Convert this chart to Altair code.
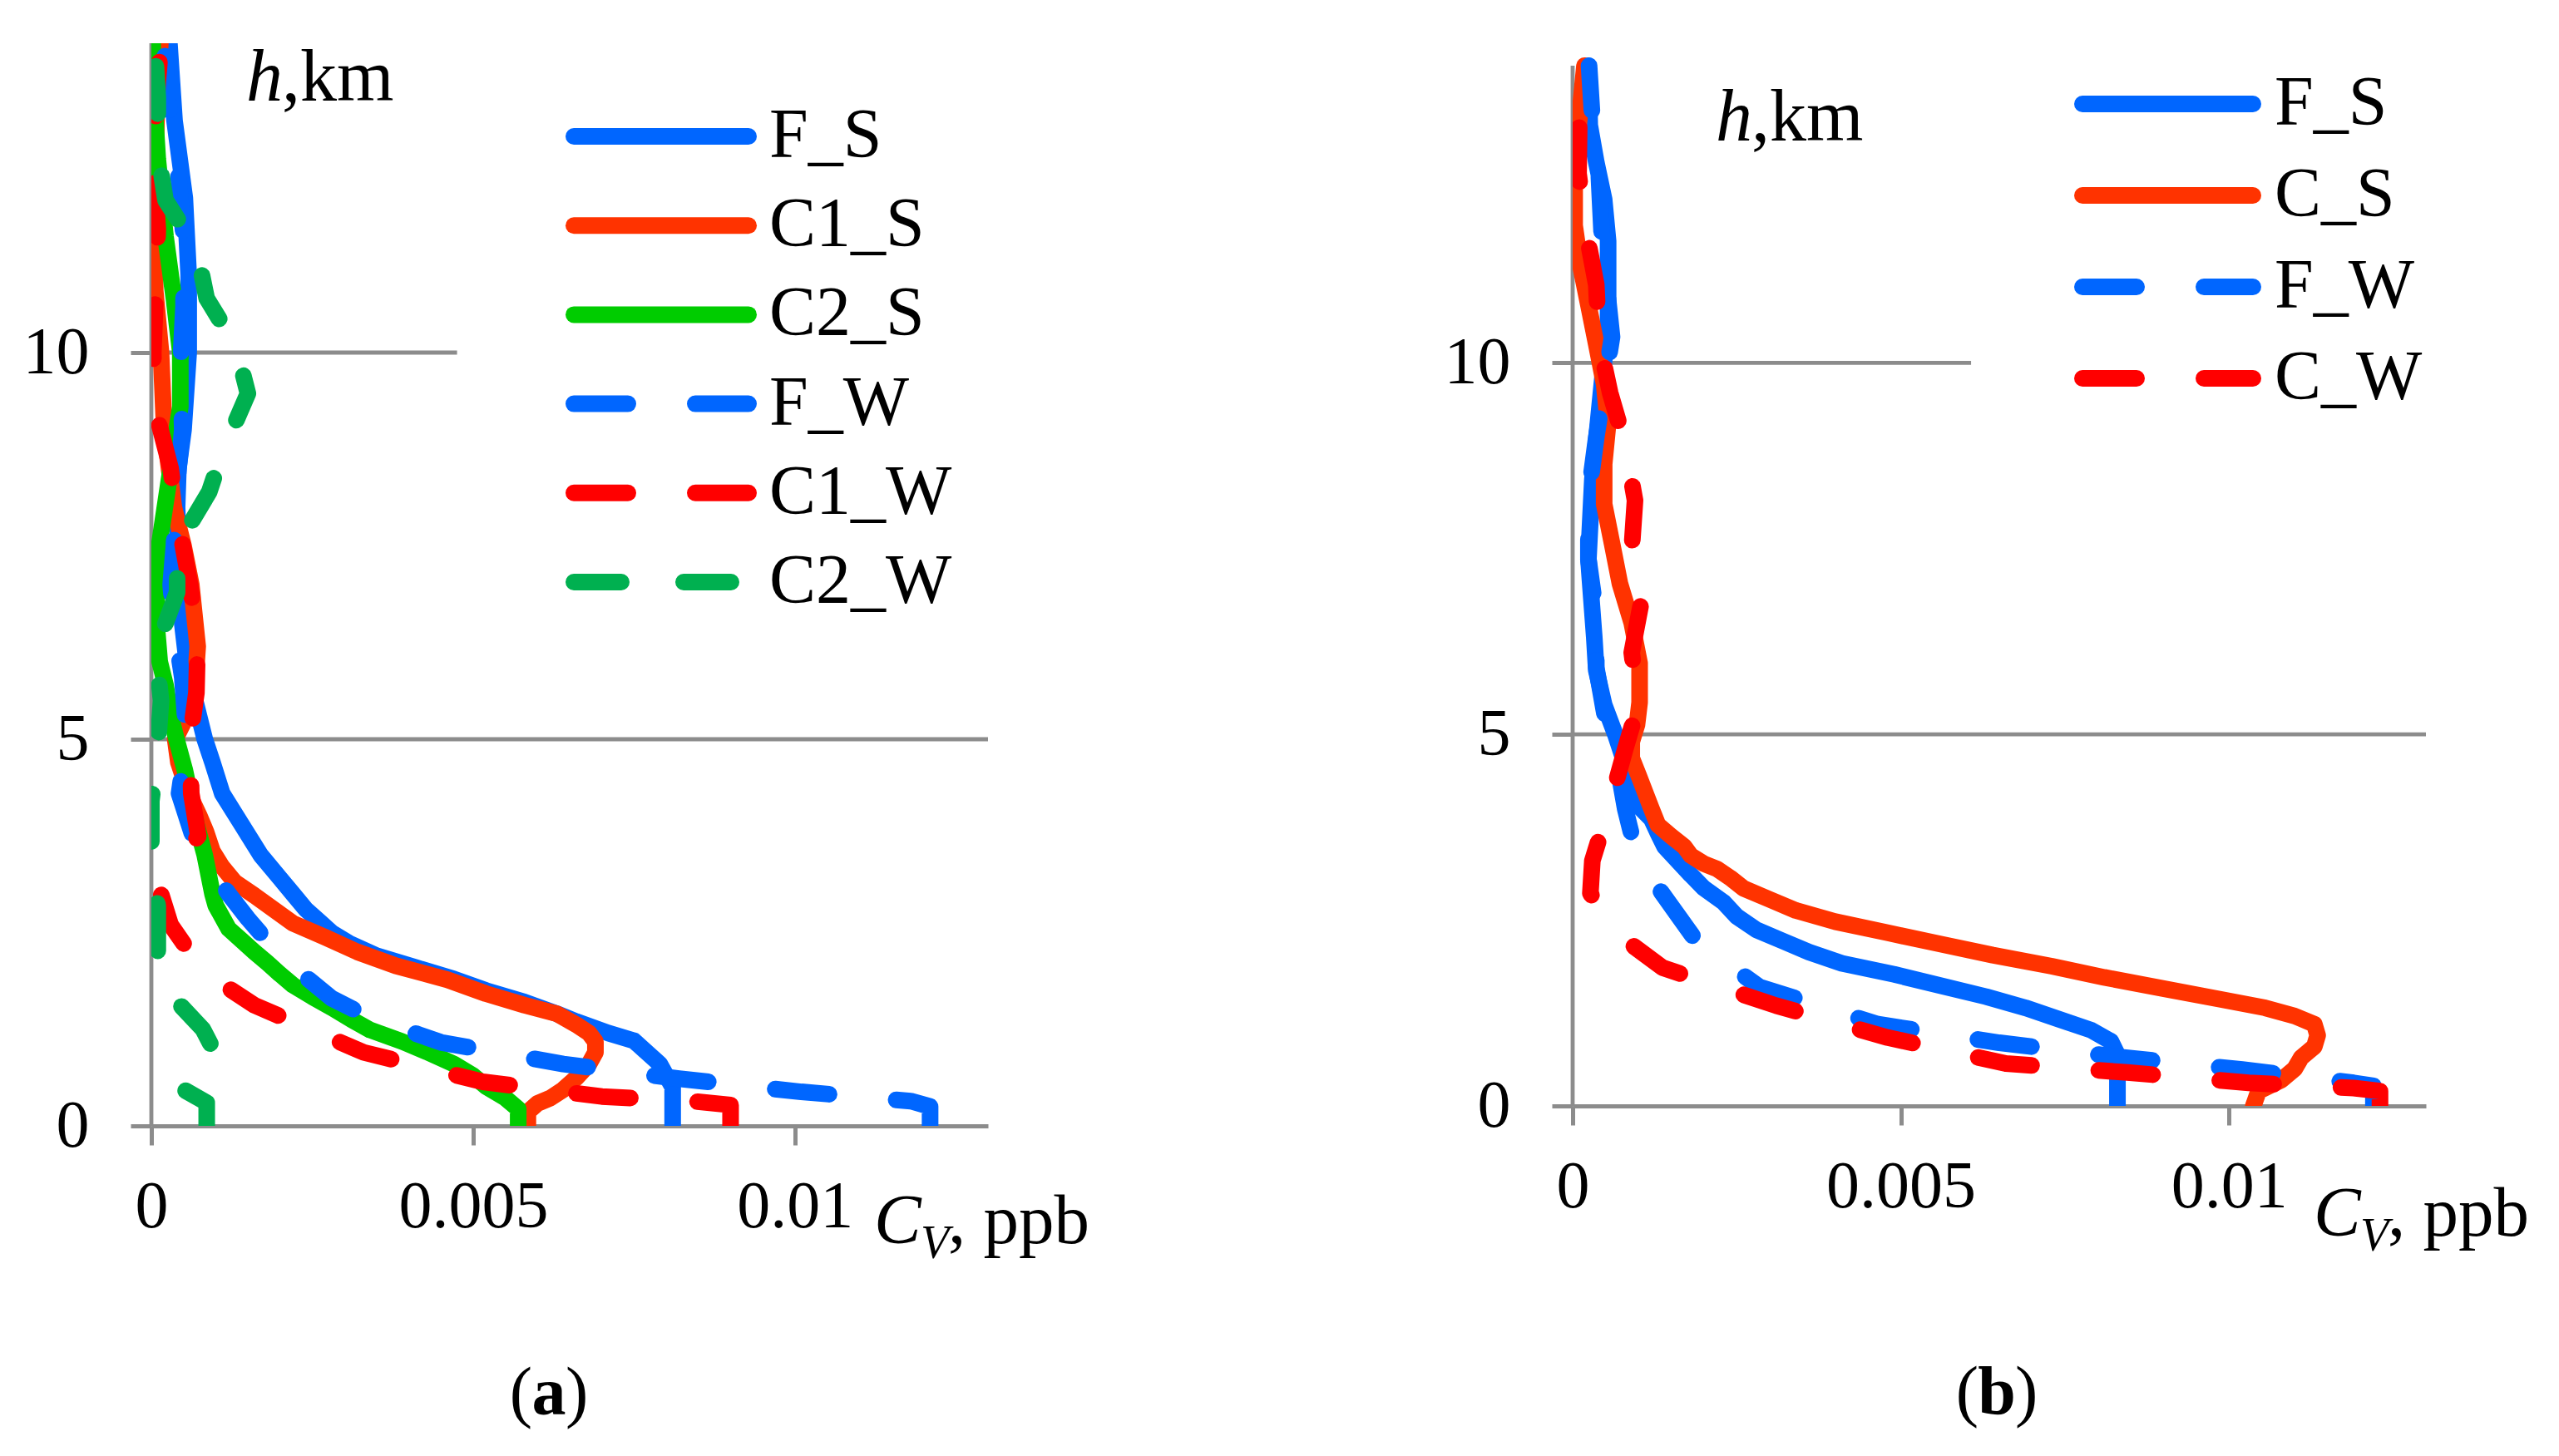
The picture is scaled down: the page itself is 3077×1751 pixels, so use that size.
import altair as alt
import pandas as pd

# panel (a): height h, km  /  concentration C_V, ppb
a_fs_h = [0, 0.5, 0.65, 0.8, 0.95, 1.1, 1.2, 1.35, 1.45, 1.6, 1.75, 1.9, 2.05, 2.2, 2.35, 2.5, 2.65, 2.8, 3.0, 3.2,
          3.5, 3.9, 4.3, 4.7, 5.0, 5.5, 6.0, 6.5, 7.0, 8.0, 8.5, 9.0, 10.0, 11.0, 12.0, 13.0, 14.0]
a_fs_c = [0.0081, 0.0081, 0.0080, 0.0079, 0.0077, 0.0075, 0.0071, 0.0066, 0.0063, 0.0058, 0.0052, 0.0047, 0.0041,
          0.0035, 0.0031, 0.0028, 0.0026, 0.0024, 0.0022, 0.0020, 0.0017, 0.0014, 0.0011, 0.00095, 0.00083, 0.00068,
          0.00055, 0.00048, 0.00044, 0.00040, 0.00042, 0.00050, 0.00058, 0.00058, 0.00052, 0.00036, 0.00028]

a_c1s_h = [0, 0.18, 0.29, 0.36, 0.47, 0.62, 0.8, 0.95, 1.09, 1.2, 1.31, 1.45, 1.56, 1.71, 1.89, 2.07, 2.25, 2.44,
           2.62, 2.8, 2.98, 3.15, 3.35, 3.55, 3.8, 4.0, 4.3, 4.7, 5.0, 5.3, 5.7, 6.2, 7.0, 7.5, 8.0, 9.0, 10.0, 10.8,
           11.5, 12.5, 13.5, 14.0]
a_c1s_c = [0.00585, 0.00585, 0.0060, 0.0062, 0.0064, 0.0066, 0.0068, 0.0069, 0.0069, 0.0068, 0.0066, 0.0063, 0.0058,
           0.0052, 0.0046, 0.0038, 0.0032, 0.0027, 0.0022, 0.0019, 0.0016, 0.0013, 0.0011, 0.00095, 0.00085, 0.00075,
           0.00058, 0.00042, 0.00037, 0.00055, 0.00068, 0.00072, 0.00062, 0.00050, 0.00035, 0.00020, 0.00015,
           0.00006, 0.00005, 0.00006, 0.00010, 0.00014]

a_c2s_h = [0, 0.22, 0.36, 0.51, 0.65, 0.8, 0.95, 1.09, 1.24, 1.38, 1.53, 1.67, 1.82, 1.96, 2.11, 2.25, 2.4, 2.55,
           2.7, 2.85, 3.0, 3.5, 3.9, 4.25, 4.6, 5.0, 5.3, 5.7, 6.0, 6.4, 7.0, 7.5, 8.5, 9.3, 10.0, 10.7, 11.5, 12.5,
           13.3, 14.0]
a_c2s_c = [0.0057, 0.0057, 0.0055, 0.0052, 0.0050, 0.0047, 0.0043, 0.0039, 0.0034, 0.0031, 0.0028, 0.0025, 0.0022,
           0.0020, 0.0018, 0.0016, 0.0014, 0.0012, 0.0011, 0.0010, 0.00095, 0.00083, 0.00070, 0.00061, 0.00052,
           0.00039, 0.00030, 0.00022, 0.00013, 0.00009, 0.00008, 0.00012, 0.00030, 0.00045, 0.00045, 0.00035,
           0.00022, 0.00010, 0.00004, 0.00002]

a_fw_h = [0, 0.25, 0.32, 0.44, 0.61, 0.8, 1.08, 1.4, 1.65, 2.2, 2.68, 3.0, 3.6, 4.3, 5.0, 5.8, 6.5, 7.0, 7.5, 8.3,
          9.0, 9.8, 10.6, 11.5, 12.5, 13.3, 14.0]
a_fw_c = [0.0121, 0.0121, 0.0118, 0.0101, 0.0082, 0.0064, 0.0045, 0.0034, 0.0028, 0.0020, 0.0015, 0.0012, 0.0007,
          0.00043, 0.00055, 0.00048, 0.00035, 0.00030, 0.00035, 0.00040, 0.00048, 0.00045, 0.00050, 0.00050,
          0.00040, 0.00025, 0.00020]

a_c1w_h = [0, 0.27, 0.32, 0.38, 0.57, 0.95, 1.56, 2.0, 2.6, 3.0, 3.4, 3.75, 4.3, 5.0, 5.6, 6.3, 7.0, 8.0, 8.5, 9.3,
           10.0, 11.0, 11.6, 12.5, 13.5, 14.0]
a_c1w_c = [0.0090, 0.0090, 0.0084, 0.0070, 0.00515, 0.0033, 0.0016, 0.0008, 0.0003, 0.00015, 0.0004, 0.00073,
           0.00062, 0.0006, 0.0007, 0.00072, 0.0006, 0.00038, 0.0003, 0.00005, 0.00003, 0.00008, 0.0001, 0.00003,
           0.0001, 0.00015]

a_c2w_h = [0, 0.3, 0.47, 0.7, 0.93, 1.25, 1.56, 1.85, 2.1, 2.84, 3.4, 4.2, 4.9, 5.5, 5.9, 6.3, 6.9, 7.5, 8.2, 8.7,
           9.47, 9.8, 10.1, 10.7, 11.35, 11.97, 12.6, 13.3, 14.0]
a_c2w_c = [0.00086, 0.00086, 0.0005, 0.0007, 0.0010, 0.0008, 0.00045, 0.0002, 0.0001, 0.0001, 0.0, 0.0, 0.0001,
           0.00015, 0.0001, 0.00013, 0.0004, 0.0004, 0.0009, 0.0011, 0.0015, 0.0014, 0.0013, 0.00086, 0.0007,
           0.00022, 0.0001, 0.0001, 0.00005]

# panel (b)
b_fs_h = [0, 0.69, 0.87, 1.02, 1.17, 1.32, 1.47, 1.62, 1.77, 1.92, 2.07, 2.22, 2.37, 2.55, 2.74, 2.93, 3.11, 3.3,
          3.49, 3.67, 3.86, 4.04, 4.23, 4.6, 5.0, 5.4, 5.86, 6.3, 7.36, 8.43, 9.5, 10.57, 11.64, 12.2, 12.7, 13.2, 14.0]
b_fs_c = [0.0083, 0.0083, 0.0082, 0.0079, 0.0074, 0.0069, 0.0063, 0.0056, 0.0049, 0.0041, 0.0036, 0.0032, 0.0028,
          0.0025, 0.0023, 0.0020, 0.0018, 0.0016, 0.0014, 0.0013, 0.0012, 0.0010, 0.00094, 0.0008, 0.00065, 0.00048,
          0.00036, 0.00033, 0.00024, 0.0003, 0.00042, 0.00054, 0.00054, 0.00048, 0.00036, 0.00026, 0.00024]

b_cs_h = [0, 0.2, 0.35, 0.5, 0.65, 0.8, 0.95, 1.1, 1.21, 1.32, 1.43, 1.58, 1.73, 1.88, 2.03, 2.18, 2.33, 2.48, 2.63,
          2.78, 2.93, 3.07, 3.19, 3.26, 3.37, 3.49, 3.63, 3.78, 4.0, 4.23, 4.46, 4.68, 4.9, 5.13, 5.43, 5.96, 6.5,
          7.03, 7.57, 8.1, 8.64, 9.18, 9.71, 10.25, 10.78, 11.3, 11.85, 12.4, 12.9, 13.46, 14.0]
b_cs_c = [0.01037, 0.01045, 0.0108, 0.0110, 0.0111, 0.0113, 0.01135, 0.0113, 0.0110, 0.01055, 0.0099, 0.0090,
          0.0081, 0.0073, 0.0064, 0.0056, 0.0048, 0.0040, 0.0034, 0.0030, 0.0026, 0.0024, 0.0022, 0.0020, 0.0018,
          0.0017, 0.0015, 0.0013, 0.0012, 0.0011, 0.0010, 0.0009, 0.0009, 0.00098, 0.00102, 0.00102, 0.0009,
          0.00072, 0.0006, 0.00048, 0.00048, 0.00054, 0.00048, 0.00036, 0.00024, 0.00012, 0.00003, 0.00003,
          0.00006, 0.00012, 0.00018]

b_fw_h = [0, 0.27, 0.31, 0.49, 0.66, 0.85, 1.1, 1.6, 2.2, 2.57, 2.94, 3.5, 4.0, 4.5, 5.2, 5.9, 6.6, 7.36, 8.2, 9.0,
          10.35, 11.6, 12.5, 13.3, 14.0]
b_fw_c = [0.0122, 0.0122, 0.0119, 0.0102, 0.0083, 0.0065, 0.00465, 0.00285, 0.0019, 0.0016, 0.0013, 0.00094,
          0.0008, 0.0007, 0.0005, 0.00036, 0.00036, 0.00024, 0.00024, 0.00036, 0.0006, 0.00045, 0.0004, 0.0003,
          0.00025]

b_cw_h = [0, 0.2, 0.24, 0.31, 0.45, 0.57, 0.92, 1.35, 1.86, 2.3, 2.86, 3.3, 4.16, 4.8, 5.4, 6.1, 6.8, 7.5, 8.15,
          8.9, 9.6, 10.3, 11.05, 11.8, 12.55, 13.2, 13.85, 14.0]
b_cw_c = [0.0123, 0.0123, 0.0119, 0.0103, 0.00845, 0.0066, 0.0048, 0.0031, 0.00137, 0.0007, 0.00027, 0.0003,
          0.0006, 0.0008, 0.0010, 0.0009, 0.00105, 0.0009, 0.00095, 0.0008, 0.00057, 0.0004, 0.00036, 0.0002,
          0.00009, 0.0001, 0.00012, 0.00015]

# horizontal grid lines: level and where each one stops
grid_h = [5, 10]
a_grid_end = [0.013, 0.00475]
b_grid_end = [0.013, 0.00607]

x_ticks = [0, 0.005, 0.01]
y_ticks = [0, 5, 10]
H_TOP = 14

BLUE, ORANGE, GREEN, RED, DKGREEN = "#0066FF", "#FF3300", "#00CC00", "#FF0000", "#00B050"
LONG_DASH = [65, 81]
SHORT_DASH = [57, 75]
FONT = "Liberation Serif"
GREY = "#8c8c8c"
LW = 20

x_scale = alt.Scale(domain=[0, 0.013], nice=False)
x_axis = alt.Axis(values=x_ticks, format="~g", title=None, grid=False, domainColor=GREY, domainWidth=5,
                  tickColor=GREY, tickWidth=5, tickSize=23, labelPadding=35, labelFont=FONT, labelLimit=600,
                  labelFontSize=80, labelColor="black", labelFlush=False, labelOverlap=False)


def y_axis():
    # the vertical axis line is drawn as a rule, so it can stop at h = 14
    return alt.Axis(values=y_ticks, title=None, grid=False, domain=False,
                    tickColor=GREY, tickWidth=5, tickSize=25, labelPadding=50, labelFont=FONT, labelLimit=600,
                    labelFontSize=80, labelColor="black", labelFlush=False, labelOverlap=False)


def style(color, dash):
    kw = dict(color=color, strokeWidth=LW, strokeCap="round", strokeJoin="round")
    if dash:
        kw["strokeDash"] = dash
    return kw


def profile(h, c, color, dash, ys):
    df = pd.DataFrame({"h": h, "c": c, "i": range(len(h))})
    return alt.Chart(df).mark_line(clip=True, **style(color, dash)).encode(
        x=alt.X("c:Q", scale=x_scale, axis=x_axis),
        y=alt.Y("h:Q", scale=ys, axis=y_axis()),
        order="i:Q",
    )


def frame(ends, ys):
    # grid lines at 5 and 10 km, plus the vertical axis line from 0 to 14 km
    df = pd.DataFrame({"h": grid_h + [0], "h2": grid_h + [H_TOP],
                       "c0": [0] * (len(ends) + 1), "c1": ends + [0]})
    return alt.Chart(df).mark_rule(color=GREY, strokeWidth=4.8).encode(
        x=alt.X("c0:Q", scale=x_scale, axis=x_axis), x2="c1:Q",
        y=alt.Y("h:Q", scale=ys, axis=y_axis()), y2="h2:Q",
    )


def label(text, x, y, size=84, italic=False, bold=False, align="left", baseline="alphabetic"):
    kw = dict(font=FONT, fontSize=size, color="black", align=align, baseline=baseline)
    if italic:
        kw["fontStyle"] = "italic"
    if bold:
        kw["fontWeight"] = "bold"
    return alt.Chart(pd.DataFrame({"t": [text]})).mark_text(**kw).encode(
        x=alt.value(x), y=alt.value(y), text="t:N")


def legend(entries, x0, x1, xt, y0, dy):
    layers = []
    for k, (name, color, dash) in enumerate(entries):
        y = y0 + k * dy
        layers.append(alt.Chart(pd.DataFrame({"t": [name]})).mark_rule(**style(color, dash)).encode(
            x=alt.value(x0), x2=alt.value(x1), y=alt.value(y)))
        layers.append(label(name, xt, y, baseline="middle"))
    return layers


a_series = [
    ("F_S", a_fs_h, a_fs_c, BLUE, None),
    ("C1_S", a_c1s_h, a_c1s_c, ORANGE, None),
    ("C2_S", a_c2s_h, a_c2s_c, GREEN, None),
    ("F_W", a_fw_h, a_fw_c, BLUE, LONG_DASH),
    ("C1_W", a_c1w_h, a_c1w_c, RED, LONG_DASH),
    ("C2_W", a_c2w_h, a_c2w_c, DKGREEN, SHORT_DASH),
]
b_series = [
    ("F_S", b_fs_h, b_fs_c, BLUE, None),
    ("C_S", b_cs_h, b_cs_c, ORANGE, None),
    ("F_W", b_fw_h, b_fw_c, BLUE, LONG_DASH),
    ("C_W", b_cw_h, b_cw_c, RED, LONG_DASH),
]

# panel (a): 14 km fills the whole plot height
a_h, a_scale = 1302, alt.Scale(domain=[0, H_TOP], nice=False)
# panel (b): its 14 km top sits lower than in (a)
b_h_plot, b_drop = 1251, 27
b_h = b_h_plot + b_drop
b_scale = alt.Scale(domain=[0, H_TOP * b_h / b_h_plot], nice=False)

left = alt.layer(
    frame(a_grid_end, a_scale),
    *[profile(h, c, col, d, a_scale) for _, h, c, col, d in a_series],
    *legend([(n, col, d) for n, _, _, col, d in a_series], 508, 718, 743, 112, 107.2),
    label("h", 114, 69, size=88, italic=True),
    label(",km", 157, 69, size=88),
    label("C", 869, 1443, size=85, italic=True),
    label("V", 925, 1461, size=56, italic=True),
    label(", ppb", 958, 1443, size=85),
    label("(", 458, 1649, size=82, align="right"),
    label("a", 478, 1649, size=82, bold=True, align="center"),
    label(")", 498, 1649, size=82),
).properties(width=1006, height=a_h)

right = alt.layer(
    frame(b_grid_end, b_scale),
    *[profile(h, c, col, d, b_scale) for _, h, c, col, d in b_series],
    *legend([(n, col, d) for n, _, _, col, d in b_series], 613, 818, 844, 46 + b_drop, 110),
    label("h", 172, 90 + b_drop, size=88, italic=True),
    label(",km", 215, 90 + b_drop, size=88),
    label("C", 891, 1407 + b_drop, size=85, italic=True),
    label("V", 947, 1425 + b_drop, size=56, italic=True),
    label(", ppb", 980, 1407 + b_drop, size=85),
    label("(", 488, 1621 + b_drop, size=82, align="right"),
    label("b", 510, 1621 + b_drop, size=82, bold=True, align="center"),
    label(")", 532, 1621 + b_drop, size=82),
).properties(width=1026, height=b_h)

chart = alt.hconcat(left, right, spacing=426).properties(
    padding={"left": 19, "top": 41, "right": 5, "bottom": 5}
).configure_view(stroke=None)

chart.save("out.html", embed_options={"renderer": "svg", "actions": False})
